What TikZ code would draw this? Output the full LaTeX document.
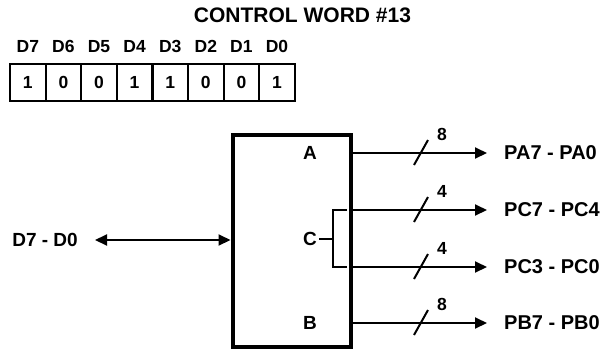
\documentclass[tikz,border=0pt]{standalone}
\usepackage{fontspec}
\setmainfont{Liberation Sans}
\usetikzlibrary{arrows.meta}
\begin{document}
\begin{tikzpicture}[x=1pt,y=-1pt,
  lbl/.style={font=\fontsize{19}{22}\selectfont\bfseries, inner sep=0pt},
  plbl/.style={font=\fontsize{20}{23}\selectfont\bfseries, inner sep=0pt, anchor=west},
  dlbl/.style={font=\fontsize{17.5}{20}\selectfont\bfseries, inner sep=0pt},
  ttl/.style={font=\fontsize{21}{24}\selectfont\bfseries, inner sep=0pt},
  cell/.style={draw, line width=2.2pt, minimum width=35.6pt, minimum height=37pt, inner sep=0pt, font=\fontsize{17.5}{20}\selectfont\bfseries},
  blockbox/.style={draw, line width=4pt, minimum width=118pt, minimum height=212pt, inner sep=0pt},
  wire/.style={line width=2pt},
  arr/.style={wire, -{Triangle[length=12pt,width=11pt]}},
  darr/.style={wire, {Triangle[length=12pt,width=11pt]}-{Triangle[length=12pt,width=11pt]}},
  slash/.style={line width=2pt}]
\useasboundingbox (0,0) rectangle (605,354);
% title
\node[ttl] (title) at (302.5,15) {CONTROL WORD \#13};
% control word cells
\foreach \b/\v [count=\i from 0] in {7/1,6/0,5/0,4/1,3/1,2/0,1/0,0/1}{
  \node[cell] (c\b) at ({27.8+35.6*\i},82.5) {\v};
  \node[dlbl] (d\b) at ({27.8+35.6*\i},46.5) {D\b};
}
% block
\node[blockbox] (blk) at (291.5,241) {};
\node[lbl] (la) at (310,153) {A};
\node[lbl] (lc) at (310,239) {C};
\node[lbl] (lb) at (310,323) {B};
% output labels
\node[plbl] (pa) at (504,153) {PA7 - PA0};
\node[plbl] (pch) at (504,210) {PC7 - PC4};
\node[plbl] (pcl) at (504,267) {PC3 - PC0};
\node[plbl] (pb) at (504,323) {PB7 - PB0};
\node[lbl, anchor=east] (din) at (78,240) {D7 - D0};
% arrows
\draw[arr] (blk.east |- pa) -- ([xshift=-17pt]pa.west);
\draw[arr] (blk.east |- pch) -- ([xshift=-17pt]pch.west);
\draw[arr] (blk.east |- pcl) -- ([xshift=-17pt]pcl.west);
\draw[arr] (blk.east |- pb) -- ([xshift=-17pt]pb.west);
\draw[darr] ([xshift=17pt]din.east) -- (blk.west |- din);
% C bracket
\coordinate (bt) at (333,210);
\coordinate (bb) at (333,267);
\draw[wire] (lc.east) ++(2,0) -- (333,239);
\draw[wire] (347,210) -- (bt) -- (bb) -- (347,267);
% bus slashes and widths
\foreach \y/\w/\n in {153/8/na,210/4/nch,267/4/ncl,323/8/nb}{
  \draw[slash] (414,\y+12) -- (428,\y-13);
  \node[dlbl] (\n) at (442,\y-19) {\w};
}
\end{tikzpicture}
\end{document}
